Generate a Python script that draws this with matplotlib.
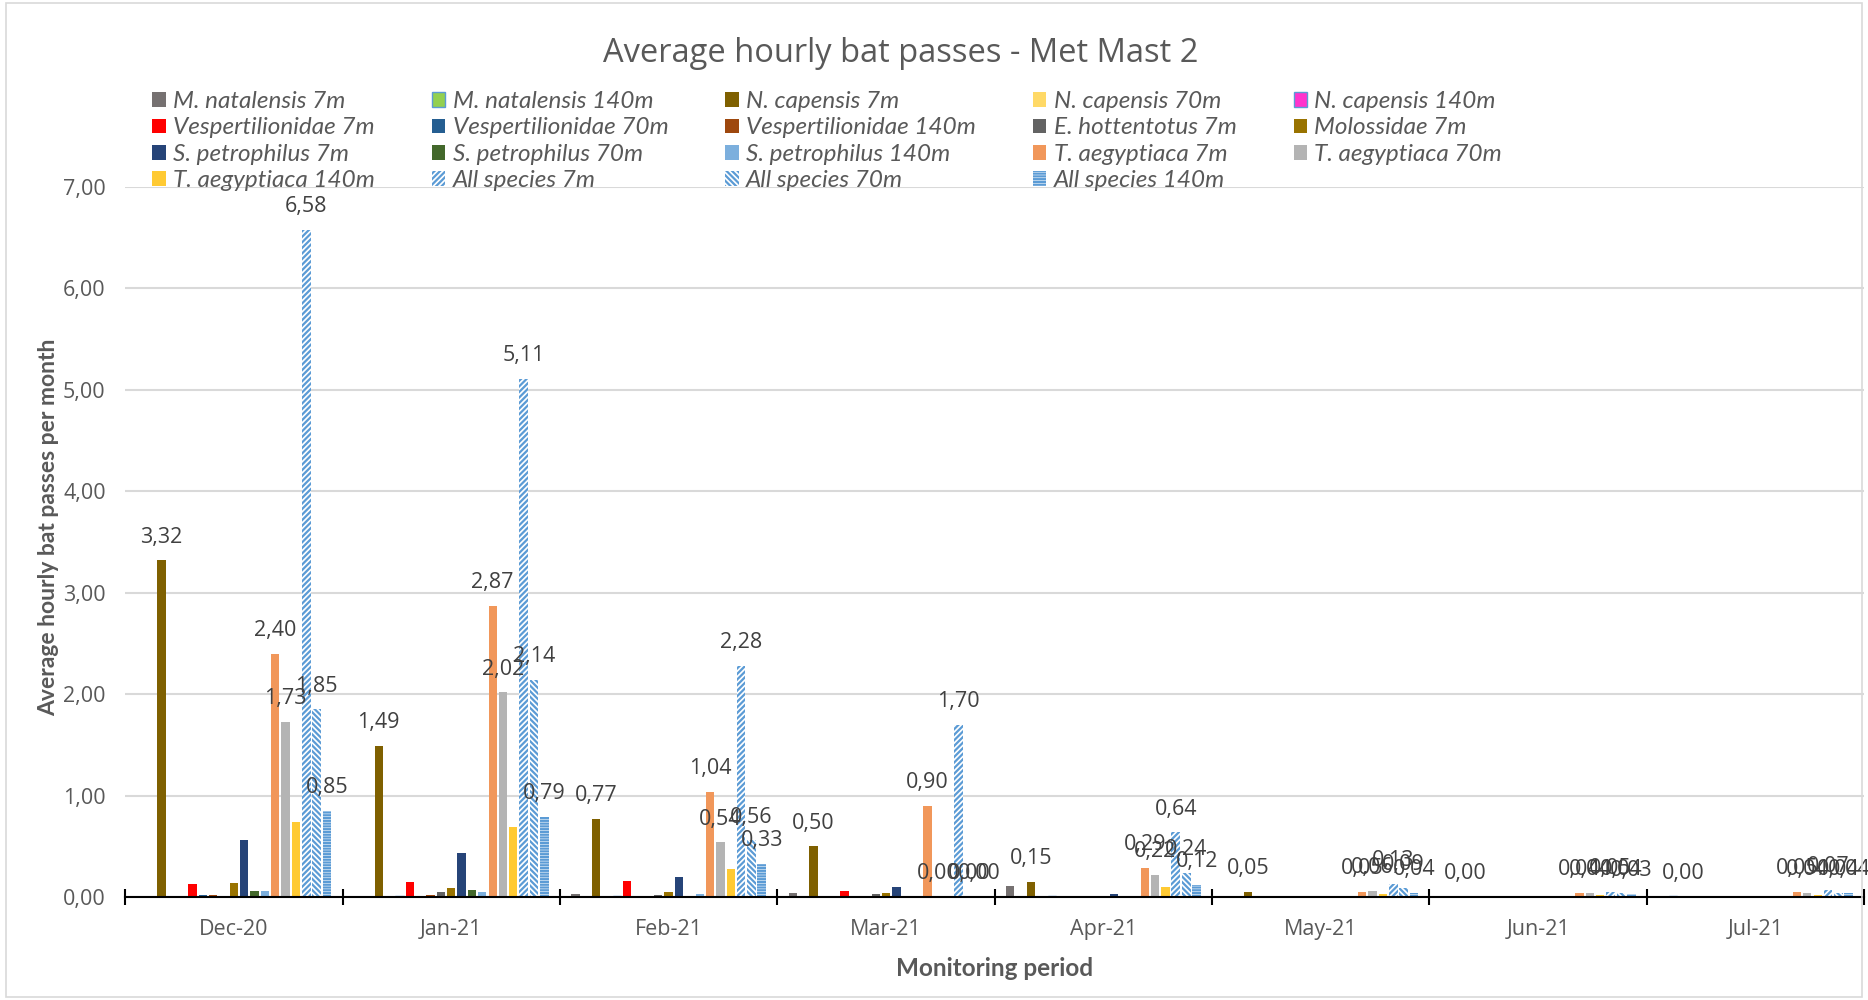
import numpy as np
import matplotlib.pyplot as plt
from matplotlib.patches import Rectangle

# months on the x axis
months = ['Dec-20', 'Jan-21', 'Feb-21', 'Mar-21', 'Apr-21', 'May-21', 'Jun-21', 'Jul-21']

series = ['M. natalensis 7m', 'M. natalensis 140m', 'N. capensis 7m', 'N. capensis 70m',
          'N. capensis 140m', 'Vespertilionidae 7m', 'Vespertilionidae 70m',
          'Vespertilionidae 140m', 'E. hottentotus 7m', 'Molossidae 7m',
          'S. petrophilus 7m', 'S. petrophilus 70m', 'S. petrophilus 140m',
          'T. aegyptiaca 7m', 'T. aegyptiaca 70m', 'T. aegyptiaca 140m',
          'All species 7m', 'All species 70m', 'All species 140m']

# values per month, in the order of the series list
dec20 = [0, 0, 3.32, 0.01, 0, 0.13, 0.02, 0.02, 0, 0.14, 0.56, 0.06, 0.06, 2.40, 1.73, 0.74, 6.58, 1.85, 0.85]
jan21 = [0, 0, 1.49, 0.01, 0.005, 0.15, 0, 0.02, 0.05, 0.09, 0.43, 0.07, 0.05, 2.87, 2.02, 0.69, 5.11, 2.14, 0.79]
feb21 = [0.03, 0, 0.77, 0, 0.01, 0.16, 0.005, 0.005, 0.02, 0.05, 0.20, 0.005, 0.03, 1.04, 0.54, 0.28, 2.28, 0.56, 0.33]
mar21 = [0.04, 0, 0.50, 0, 0, 0.06, 0, 0, 0.03, 0.04, 0.10, 0, 0, 0.90, 0.00, 0, 1.70, 0.00, 0.00]
apr21 = [0.11, 0, 0.15, 0, 0.005, 0.005, 0, 0.005, 0.005, 0.005, 0.03, 0.005, 0, 0.29, 0.22, 0.10, 0.64, 0.24, 0.12]
may21 = [0, 0, 0.05, 0.005, 0, 0.01, 0.01, 0, 0, 0, 0, 0, 0, 0.05, 0.06, 0.03, 0.13, 0.09, 0.04]
jun21 = [0, 0, 0.00, 0, 0, 0, 0, 0, 0, 0, 0, 0, 0, 0.04, 0.04, 0.02, 0.05, 0.04, 0.03]
jul21 = [0, 0.01, 0.00, 0, 0, 0, 0, 0, 0, 0, 0, 0, 0, 0.05, 0.04, 0.02, 0.07, 0.04, 0.04]

colors = ['#767171', '#92D050', '#7F6000', '#FFD966', '#FF33CC', '#FF0000', '#255E91',
          '#9E480E', '#636363', '#997300', '#264478', '#43682B', '#7CAFDD', '#F1975A',
          '#B4B4B4', '#FFCA33', 'white', 'white', 'white']
hatches = [None] * 16 + ['//////', '\\\\\\\\\\\\', '------']
labelled = [2, 13, 14, 16, 17, 18]   # series that carry data labels

data = np.array([dec20, jan21, feb21, mar21, apr21, may21, jun21, jul21]).T

plt.rcParams['font.family'] = ['Open Sans', 'DejaVu Sans']
plt.rcParams['hatch.linewidth'] = 1.6

fig = plt.figure(figsize=(18.68, 10), dpi=100)
ax = fig.add_axes([0.067, 0.103, 0.931, 0.710])

x = np.arange(len(months))
n = len(series)
pitch = 1 / (n + 2)
bars = []
for j in range(n):
    pos = x + (j - (n - 1) / 2) * pitch
    if hatches[j]:
        b = ax.bar(pos, data[j], width=pitch * 0.85, color='white', edgecolor='#5B9BD5',
                   linewidth=0, hatch=hatches[j], label=series[j], zorder=3)
    elif j in (1, 4):
        b = ax.bar(pos, data[j], width=pitch * 0.8, color=colors[j], edgecolor='#5B9BD5',
                   linewidth=1, label=series[j], zorder=3)
    else:
        b = ax.bar(pos, data[j], width=pitch * 0.8, color=colors[j], linewidth=0,
                   label=series[j], zorder=3)
    bars.append(b)
    if j in labelled:
        ax.bar_label(b, labels=[f'{v:.2f}'.replace('.', ',') for v in data[j]],
                     padding=9, fontsize=15.5, color='#404040', zorder=4)

ax.set_xlim(-0.5, len(months) - 0.5)
ax.set_ylim(0, 7)
ax.set_yticks(range(8))
ax.set_yticklabels([f'{v},00' for v in range(8)])
ax.tick_params(axis='y', length=0, pad=14, labelsize=15.5, labelcolor='#595959')
ax.grid(axis='y', color='#D9D9D9', linewidth=1.5, zorder=0)

ax.set_xticks(np.arange(-0.5, len(months)), labels=[])
ax.set_xticks(x, labels=months, minor=True)
ax.tick_params(axis='x', which='major', direction='inout', length=11, width=1.5, color='black')
ax.tick_params(axis='x', which='minor', length=0, pad=16, labelsize=15.5, labelcolor='#595959')

for s in ['top', 'right', 'left']:
    ax.spines[s].set_visible(False)
ax.spines['bottom'].set_linewidth(1.5)
ax.spines['bottom'].set_zorder(5)

ax.set_xlabel('Monitoring period', fontsize=17.5, fontweight='bold', color='#595959',
              family=['Lato', 'DejaVu Sans'])
ax.xaxis.set_label_coords(0.5, -0.085)
ax.set_ylabel('Average hourly bat passes per month', fontsize=16.5, fontweight='bold',
              color='#595959', family=['Lato', 'DejaVu Sans'])
ax.yaxis.set_label_coords(-0.038, 0.52)

fig.text(0.482, 0.946, 'Average hourly bat passes - Met Mast 2', ha='center', va='center',
         fontsize=23.5, color='#595959')

# legend rows go left to right, matplotlib fills columns, so reorder
order = [0, 5, 10, 15, 1, 6, 11, 16, 2, 7, 12, 17, 3, 8, 13, 18, 4, 9, 14]
leg = ax.legend([bars[i] for i in order], [series[i] for i in order], ncol=5,
                loc='upper left', bbox_to_anchor=(0.075, 0.921), bbox_transform=fig.transFigure,
                frameon=False, borderpad=0, handlelength=0.55, handleheight=0.55,
                handletextpad=0.3, labelspacing=0.22, columnspacing=2.35,
                prop={'family': ['Lato', 'DejaVu Sans'], 'style': 'italic', 'size': 17.5})
for t in leg.get_texts():
    t.set_color('#595959')

fig.patches.append(Rectangle((0.003, 0.003), 0.994, 0.994, transform=fig.transFigure,
                             fill=False, edgecolor='#D9D9D9', linewidth=1.2))

plt.savefig('out.png', dpi=100)
